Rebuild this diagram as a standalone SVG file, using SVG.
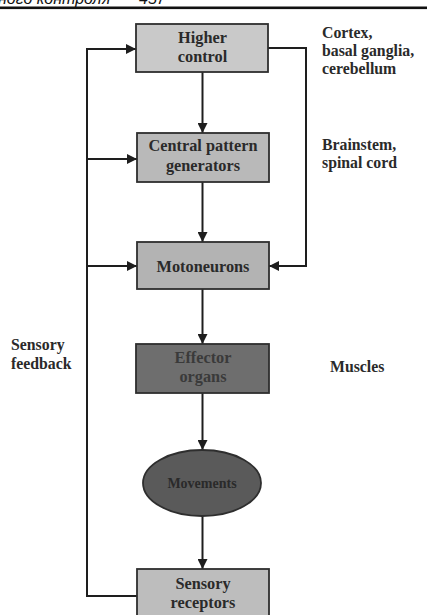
<svg xmlns="http://www.w3.org/2000/svg" width="427" height="615" viewBox="0 0 427 615">
<defs>
<marker id="ah" viewBox="0 0 10 10" refX="10" refY="5" markerWidth="10" markerHeight="10" markerUnits="userSpaceOnUse" orient="auto">
<path d="M0,0 L10,5 L0,10 z" fill="#1e1e1e"/>
</marker>
</defs>
<style>
.box{stroke:#2e2e2e;stroke-width:1.8}
.lbl{font-family:"Liberation Serif",serif;font-size:16.3px;font-weight:bold;fill:#2a2a2a;text-anchor:middle}
.side{font-family:"Liberation Serif",serif;font-size:15.8px;font-weight:bold;fill:#2a2a2a}
.con{fill:none;stroke:#1e1e1e;stroke-width:2}
.hdr{font-family:"Liberation Sans",sans-serif;font-size:16px;font-style:italic;fill:#111}
</style>
<rect width="427" height="615" fill="#ffffff"/>
<g id="header">
<text class="hdr" x="-2" y="3.5">ного контроля</text>
<text class="hdr" x="139" y="3.5">457</text>
<rect x="0" y="6.5" width="427" height="2.6" fill="#111"/>
</g>
<g id="connectors">
<line class="con" x1="202.5" y1="72" x2="202.5" y2="133" marker-end="url(#ah)"/>
<line class="con" x1="202.5" y1="182" x2="202.5" y2="242" marker-end="url(#ah)"/>
<line class="con" x1="202.5" y1="289" x2="202.5" y2="344" marker-end="url(#ah)"/>
<line class="con" x1="202.5" y1="393" x2="202.5" y2="450" marker-end="url(#ah)"/>
<line class="con" x1="202.5" y1="516" x2="202.5" y2="569" marker-end="url(#ah)"/>
<polyline class="con" points="137,596 87,596 87,49 136,49" marker-end="url(#ah)"/>
<line class="con" x1="87" y1="159" x2="137" y2="159" marker-end="url(#ah)"/>
<line class="con" x1="87" y1="266" x2="137" y2="266" marker-end="url(#ah)"/>
<polyline class="con" points="268,48 306,48 306,266 269,266" marker-end="url(#ah)"/>
</g>
<g id="higher-control">
<rect class="box" x="136" y="24" width="132" height="48" fill="#c9c9c9"/>
<text class="lbl" x="202.5" y="43">Higher</text>
<text class="lbl" x="202.5" y="62">control</text>
</g>
<g id="cpg">
<rect class="box" x="137" y="133" width="132" height="49" fill="#b9b9b9"/>
<text class="lbl" x="203" y="151">Central pattern</text>
<text class="lbl" x="203" y="171">generators</text>
</g>
<g id="motoneurons">
<rect class="box" x="137" y="242" width="132" height="47" fill="#b3b3b3"/>
<text class="lbl" x="203" y="272">Motoneurons</text>
</g>
<g id="effector-organs">
<rect class="box" x="136" y="344" width="133" height="49" fill="#6e6e6e"/>
<text class="lbl" x="203" y="363" style="fill:#3a3a3a">Effector</text>
<text class="lbl" x="203" y="382" style="fill:#3a3a3a">organs</text>
</g>
<g id="movements">
<ellipse class="box" cx="202" cy="483" rx="59" ry="33" fill="#5a5a5a"/>
<text class="lbl" x="202" y="488" style="fill:#2a2a2a;font-size:14px">Movements</text>
</g>
<g id="sensory-receptors">
<rect class="box" x="137" y="569" width="132" height="60" fill="#bdbdbd"/>
<text class="lbl" x="203" y="589">Sensory</text>
<text class="lbl" x="203" y="608">receptors</text>
</g>
<g id="labels">
<text class="side" x="322" y="38">Cortex,</text>
<text class="side" x="322" y="56">basal ganglia,</text>
<text class="side" x="322" y="74">cerebellum</text>
<text class="side" x="322" y="150">Brainstem,</text>
<text class="side" x="322" y="168">spinal cord</text>
<text class="side" x="330" y="372">Muscles</text>
<text class="side" x="11" y="350">Sensory</text>
<text class="side" x="11" y="369">feedback</text>
</g>
</svg>
